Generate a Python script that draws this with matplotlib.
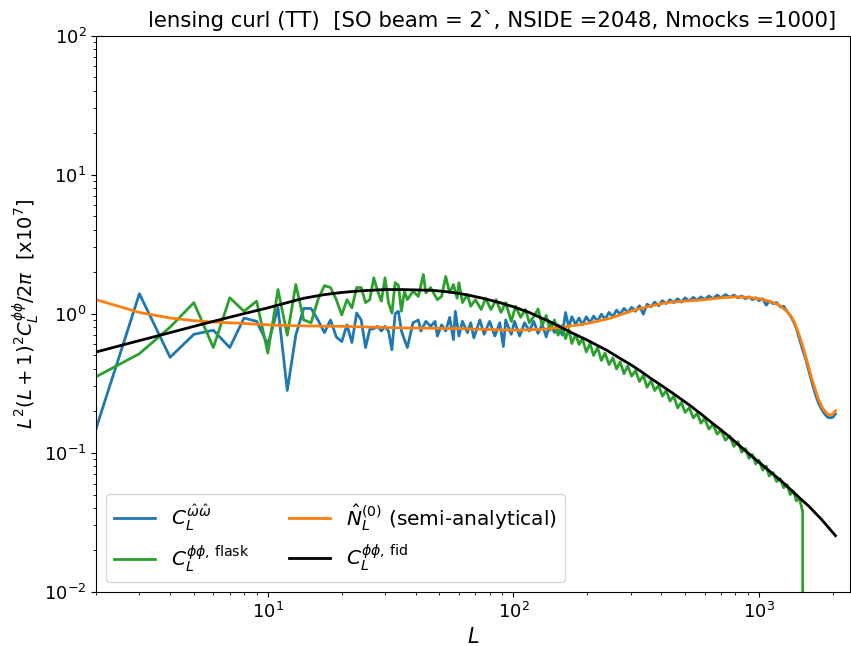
import numpy as np
import matplotlib
matplotlib.use("Agg")
from matplotlib import pyplot as plt

# (y in units of 1e-7)
L_fid = [2, 3, 4, 5, 6, 8, 10, 12, 14, 17, 20, 24, 30, 35, 47, 55, 64, 75, 88, 100,
         116, 130, 140, 158, 175, 198, 220, 240, 270, 300, 330, 360, 400, 440, 486,
         530, 580, 640, 700, 770, 850, 930, 1020, 1120, 1240, 1350, 1450, 1600, 1800, 2048]
cl_fid = [0.53, 0.64, 0.73, 0.81, 0.88, 1.0, 1.1, 1.2, 1.29, 1.37, 1.42, 1.46, 1.49, 1.49,
          1.47, 1.43, 1.37, 1.29, 1.2, 1.12, 1.02, 0.93, 0.88, 0.79, 0.72, 0.65, 0.59,
          0.545, 0.48, 0.43, 0.385, 0.345, 0.305, 0.272, 0.24, 0.215, 0.19, 0.165, 0.146,
          0.127, 0.109, 0.095, 0.083, 0.072, 0.062, 0.054, 0.048, 0.041, 0.033, 0.0253]

L_n0 = [2, 3, 4, 5, 6, 8, 10, 12, 20, 35, 60, 100, 130, 160, 200, 250, 300, 350, 420,
        500, 600, 700, 800, 900, 1000, 1100, 1200, 1300, 1360, 1400, 1450, 1500, 1550,
        1600, 1650, 1700, 1750, 1800, 1850, 1900, 1950, 2000, 2048]
n0 = [1.26, 1.02, 0.93, 0.89, 0.87, 0.85, 0.83, 0.82, 0.81, 0.79, 0.78, 0.76, 0.77, 0.80,
      0.85, 0.93, 1.04, 1.12, 1.20, 1.23, 1.26, 1.30, 1.32, 1.31, 1.28, 1.23, 1.16, 1.04,
      0.94, 0.85, 0.72, 0.60, 0.49, 0.40, 0.33, 0.28, 0.24, 0.215, 0.20, 0.19, 0.187,
      0.19, 0.20]

L_ww = [2, 3, 4, 5, 6, 7, 8, 9, 10, 11, 12, 13, 14, 15, 16, 17, 18, 19, 20, 21, 22, 23,
        24, 25, 26, 27, 28, 29, 30, 31, 32, 33, 34, 35, 36, 37, 39, 41, 42, 44, 46, 48,
        49, 51, 53, 55, 57, 58, 60, 62, 65, 67, 69, 73, 76, 80, 84, 88, 91, 93, 98, 101,
        106, 111, 116, 121, 126, 131, 136, 141, 147, 152, 158, 163, 168, 173, 179, 185,
        191, 198, 205, 212, 220, 228, 236, 245, 254, 263, 272, 282, 292, 303, 314, 326,
        338, 350, 363, 376, 390, 404, 419, 434, 450, 466, 483, 500, 520, 540, 560, 580,
        600, 625, 650, 675, 700, 730, 760, 790, 820, 850, 880, 910, 940, 970, 1000, 1035,
        1070, 1100, 1140, 1180, 1220, 1260, 1300, 1340, 1380, 1420, 1460, 1500, 1550,
        1600, 1650, 1700, 1750, 1800, 1850, 1900, 1950, 2000, 2048]
cl_ww = [0.15, 1.39, 0.485, 0.71, 0.76, 0.57, 0.93, 0.88, 0.60, 1.10, 0.28, 0.70, 1.09,
         1.09, 0.9, 0.73, 0.9, 0.68, 0.63, 0.83, 0.62, 1.01, 0.9, 0.57, 0.77, 0.78, 0.81,
         0.75, 0.81, 0.75, 0.55, 1.0, 1.04, 0.75, 0.65, 0.57, 0.86, 0.9, 0.75, 0.88, 0.81,
         0.88, 0.69, 0.83, 0.75, 0.94, 0.65, 1.04, 0.69, 0.88, 0.73, 0.86, 0.67, 0.9, 0.71,
         0.88, 0.69, 0.86, 0.58, 0.9, 0.71, 0.88, 0.69, 0.86, 0.75, 0.88, 0.72, 0.84, 0.68,
         0.86, 0.73, 0.83, 0.70, 1.02, 0.80, 0.95, 0.84, 0.93, 0.83, 0.95, 0.86, 0.96,
         0.88, 0.99, 0.91, 1.02, 0.95, 1.06, 0.99, 1.09, 1.02, 1.11, 1.04, 1.14, 0.99,
         1.17, 1.12, 1.21, 1.14, 1.24, 1.18, 1.26, 1.20, 1.28, 1.21, 1.30, 1.23, 1.31,
         1.25, 1.32, 1.26, 1.34, 1.28, 1.36, 1.30, 1.37, 1.31, 1.36, 1.30, 1.34, 1.28,
         1.32, 1.26, 1.30, 1.24, 1.28, 1.15, 1.23, 1.18, 1.20, 1.12, 1.13, 1.04, 0.97,
         0.88, 0.78, 0.66, 0.56, 0.47, 0.38, 0.31, 0.26, 0.225, 0.205, 0.19, 0.18, 0.178,
         0.18, 0.19]

L_flask = [2, 3, 4, 5, 6, 7, 8, 9, 10, 11, 12, 13, 14, 15, 16, 17, 18, 19, 20, 21, 22,
           23, 24, 25, 26, 27, 28, 29, 30, 31, 32, 33, 34, 35, 36, 37, 39, 41, 43, 44, 46,
           49, 51, 53, 55, 57, 59, 60, 62, 65, 67, 70, 74, 77, 81, 85, 89, 93, 98, 102,
           107, 112, 116, 121, 126, 131, 136, 141, 147, 152, 158, 163, 168, 173, 179,
           185, 191, 198, 205, 212, 220, 228, 236, 245, 254, 263, 272, 282, 292, 303, 314,
           326, 338, 350, 363, 376, 390, 404, 419, 434, 450, 466, 483, 500, 520, 540, 560,
           580, 600, 625, 650, 675, 700, 730, 760, 790, 820, 850, 880, 910, 940, 970,
           1000, 1035, 1070, 1100, 1140, 1180, 1220, 1260, 1300, 1340, 1380, 1420, 1460,
           1506, 1507, 2048]
cl_flask = [0.352, 0.515, 0.8, 1.2, 0.57, 1.30, 1.04, 1.23, 0.52, 1.49, 0.70, 1.62, 0.9,
            0.86, 1.26, 1.59, 1.54, 1.26, 0.98, 1.26, 1.10, 1.54, 1.54, 1.2, 1.26, 1.81,
            1.45, 1.23, 1.81, 1.2, 1.01, 1.67, 1.6, 1.04, 1.45, 1.26, 1.45, 1.33, 1.91,
            1.41, 1.54, 1.26, 1.33, 1.85, 1.41, 1.62, 1.29, 1.67, 1.2, 1.37, 1.13, 1.26,
            1.07, 1.29, 1.07, 1.26, 1.02, 1.2, 0.88, 1.13, 0.94, 1.07, 0.86, 0.95, 1.08,
            0.82, 0.97, 0.76, 0.90, 0.70, 0.82, 0.66, 0.77, 0.61, 0.71, 0.60, 0.66, 0.53,
            0.61, 0.50, 0.57, 0.46, 0.52, 0.43, 0.48, 0.40, 0.45, 0.37, 0.42, 0.355, 0.39,
            0.325, 0.36, 0.295, 0.33, 0.28, 0.305, 0.255, 0.28, 0.235, 0.255, 0.21, 0.23,
            0.195, 0.21, 0.178, 0.192, 0.163, 0.176, 0.148, 0.16, 0.136, 0.145, 0.123,
            0.132, 0.111, 0.12, 0.101, 0.107, 0.091, 0.097, 0.083, 0.088, 0.075, 0.080,
            0.068, 0.072, 0.062, 0.065, 0.056, 0.059, 0.050, 0.053, 0.045, 0.047, 0.0378,
            0.0, 0.0]

fig = plt.figure(figsize=(8.51, 6.46), dpi=100)
ax = fig.add_axes([0.113, 0.084, 0.886, 0.861])

ax.plot(L_ww, cl_ww, color='tab:blue', lw=2, label=r'$C_L^{\hat{\omega}\hat{\omega}}$')
ax.plot(L_flask, cl_flask, color='tab:green', lw=2, label=r'$C_L^{\phi\phi,\,\mathrm{flask}}$')
ax.plot(L_n0, n0, color='tab:orange', lw=2, label=r'$\hat{N}_L^{(0)}$ (semi-analytical)')
ax.plot(L_fid, cl_fid, color='black', lw=2, label=r'$C_L^{\phi\phi,\,\mathrm{fid}}$')

ax.set_xscale('log')
ax.set_yscale('log')
ax.set_xlim(2, 2350)
ax.set_ylim(1e-2, 1e2)
ax.tick_params(labelsize=13)
ax.set_xlabel(r'$L$', fontsize=15)
ax.set_ylabel(r'$L^2(L+1)^2C_L^{\phi\phi}/2\pi$  [x10$^7$]', fontsize=14, labelpad=2)
ax.set_title('lensing curl (TT)  [SO beam = 2`, NSIDE =2048, Nmocks =1000]', fontsize=15.3, x=0.525)
ax.legend(loc='lower left', ncol=2, fontsize=14.5)

fig.savefig('out.png', dpi=100)
